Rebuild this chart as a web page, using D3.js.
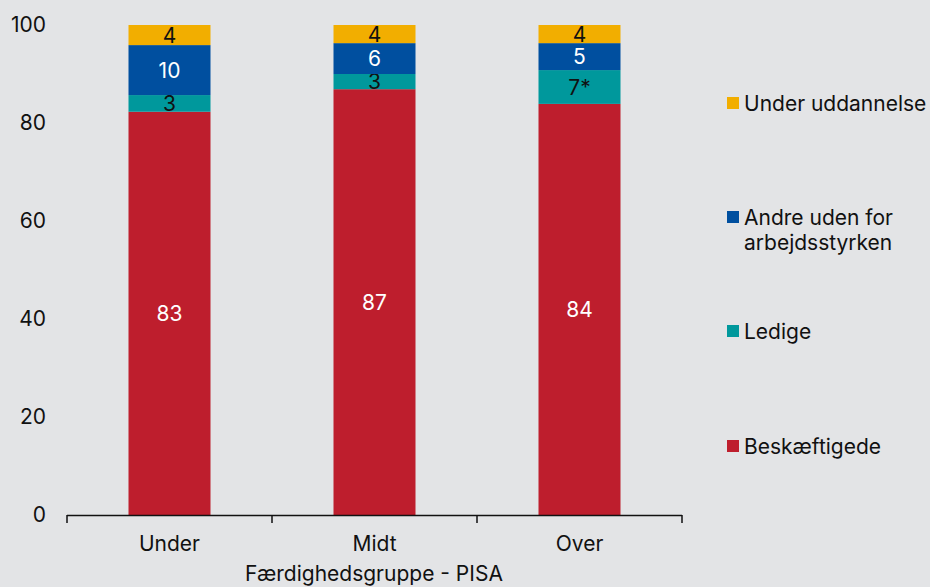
<!DOCTYPE html>
<html><head><meta charset="utf-8">
<script src="https://cdn.jsdelivr.net/npm/d3@7"></script>
<style>body{margin:0;background:#e3e4e6;} svg{display:block;font-family:Inter,"Noto Sans",sans-serif;}</style>
</head><body>
<svg id="c" width="930" height="587"></svg>
<script>
const categories = ["Under", "Midt", "Over"];
const seriesNames = ["Beskæftigede", "Ledige", "Andre uden for arbejdsstyrken", "Under uddannelse"];
const beskaeftigede = [82.3, 86.9, 83.9];
const ledige = [3.4, 3.1, 6.9];
const andre = [10.2, 6.3, 5.5];
const underUddannelse = [4.1, 3.7, 3.7];
const labelsBeskaeftigede = ["83", "87", "84"];
const labelsLedige = ["3", "3", "7*"];
const labelsAndre = ["10", "6", "5"];
const labelsUnderUddannelse = ["4", "4", "4"];
const yTicks = [0, 20, 40, 60, 80, 100];
const xTitle = "Færdighedsgruppe - PISA";

const colors = ["#be1e2d", "#00989c", "#004f9f", "#f2ae00"];
const textColors = ["#ffffff", "#111111", "#ffffff", "#111111"];
const legendLabels = [["Beskæftigede"], ["Ledige"], ["Andre uden for", "arbejdsstyrken"], ["Under uddannelse"]];
const FS = 21;

const values = [beskaeftigede, ledige, andre, underUddannelse];
const labels = [labelsBeskaeftigede, labelsLedige, labelsAndre, labelsUnderUddannelse];
const table = categories.map((c, i) => {
  const o = {cat: c};
  seriesNames.forEach((s, j) => o[s] = values[j][i]);
  return o;
});
const stack = d3.stack().keys(seriesNames)(table);

const svg = d3.select("#c");
const x = d3.scaleBand().domain(categories).range([67, 682]).paddingInner(0.6).paddingOuter(0.3);
const y = d3.scaleLinear().domain([0, 100]).range([515, 25]);

// bars
stack.forEach((layer, j) => {
  const g = svg.append("g");
  g.selectAll("rect").data(layer).join("rect")
    .attr("x", d => x(d.data.cat))
    .attr("width", x.bandwidth())
    .attr("y", d => y(d[1]))
    .attr("height", d => y(d[0]) - y(d[1]))
    .attr("fill", colors[j]);
  g.selectAll("text").data(layer).join("text")
    .attr("x", d => x(d.data.cat) + x.bandwidth() / 2)
    .attr("y", d => (y(d[0]) + y(d[1])) / 2)
    .attr("dy", "0.36em")
    .attr("text-anchor", "middle")
    .attr("font-size", FS)
    .attr("fill", textColors[j])
    .text((d, i) => labels[j][i]);
});

// y axis labels
const yAxis = d3.axisLeft(y).tickValues(yTicks).tickSize(0).tickPadding(0);
const ya = svg.append("g").attr("transform", "translate(46,0)").call(yAxis);
ya.select(".domain").remove();
ya.selectAll("text").attr("font-size", FS).attr("fill", "#111").attr("font-family", "Inter,'Noto Sans',sans-serif").attr("dy", "0.3em");

// x axis
svg.append("line").attr("x1", 67).attr("x2", 682).attr("y1", 515.5).attr("y2", 515.5).attr("stroke", "#111").attr("stroke-width", 1.5);
const bounds = [x.range()[0]].concat(categories.map(c => x(c) + x.bandwidth() + x.step() * x.paddingInner() / 2));
bounds[bounds.length - 1] = x.range()[1];
svg.selectAll(".xt").data(bounds).join("line")
  .attr("x1", d => d).attr("x2", d => d).attr("y1", 515).attr("y2", 523)
  .attr("stroke", "#111").attr("stroke-width", 1.5);
svg.selectAll(".xl").data(categories).join("text")
  .attr("x", d => x(d) + x.bandwidth() / 2).attr("y", 543).attr("dy", "0.36em")
  .attr("text-anchor", "middle").attr("font-size", FS).attr("fill", "#111").text(d => d);
svg.append("text").attr("x", 374).attr("y", 573).attr("dy", "0.36em")
  .attr("text-anchor", "middle").attr("font-size", FS).attr("fill", "#111").text(xTitle);

// legend
const legendY = [446, 331, 217, 103];
seriesNames.forEach((s, j) => {
  svg.append("rect").attr("x", 727).attr("y", legendY[j] - 6).attr("width", 12).attr("height", 12).attr("fill", colors[j]);
  legendLabels[j].forEach((t, k) => {
    svg.append("text").attr("x", 744).attr("y", legendY[j] + k * 25).attr("dy", "0.36em")
      .attr("font-size", FS).attr("fill", "#111").text(t);
  });
});
</script>
</body></html>
